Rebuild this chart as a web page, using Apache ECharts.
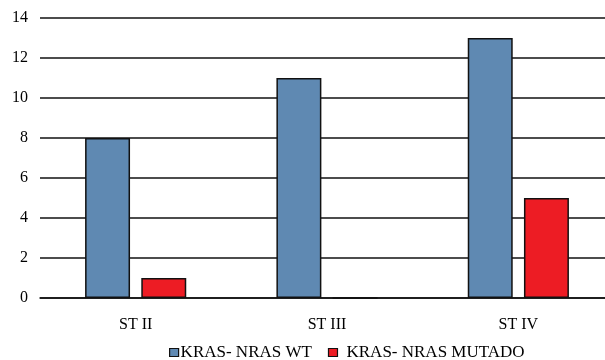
<!DOCTYPE html>
<html>
<head>
<meta charset="utf-8">
<script src="https://cdn.jsdelivr.net/npm/echarts@6/dist/echarts.min.js"></script>
<style>
  html, body { margin: 0; padding: 0; background: #fff; }
  #chart { width: 605px; height: 360px; }
</style>
</head>
<body>
<div id="chart"></div>
<script>
// Cases per stage, split by KRAS/NRAS status
const categories = ['ST II', 'ST III', 'ST IV'];
const wildType = [8, 11, 13];
const mutated = [1, 0, 5];
const seriesNames = ['KRAS- NRAS WT', 'KRAS- NRAS MUTADO'];

const font = '"Liberation Serif", "Times New Roman", serif';
const chart = echarts.init(document.getElementById('chart'));

chart.setOption({
  animation: false,
  textStyle: { fontFamily: font },
  grid: { left: 40, width: 574, top: 18, bottom: 62, outerBoundsMode: 'none', containLabel: false },
  legend: {
    top: 344,
    left: 169,
    padding: 0,
    itemWidth: 9,
    itemHeight: 8,
    itemGap: 16,
    icon: 'rect',
    itemStyle: { borderColor: '#111', borderWidth: 1.2 },
    textStyle: { fontFamily: font, fontSize: 17, color: '#000', padding: [0, 0, 0, -3] },
    data: [
      { name: seriesNames[0] },
      { name: seriesNames[1], textStyle: { padding: [0, 0, 0, 4] } }
    ]
  },
  xAxis: {
    type: 'category',
    data: categories,
    axisLine: { show: true, lineStyle: { color: '#111', width: 1.5 } },
    axisTick: { show: false },
    axisLabel: { fontFamily: font, fontSize: 16, color: '#000', margin: 19 }
  },
  yAxis: {
    type: 'value',
    min: 0,
    max: 14,
    interval: 2,
    axisLine: { show: false },
    axisTick: { show: false },
    axisLabel: { fontFamily: font, fontSize: 16, color: '#000', margin: 12 },
    splitLine: { lineStyle: { color: '#111', width: 1.5 } }
  },
  series: [
    {
      name: seriesNames[0],
      type: 'bar',
      data: wildType,
      barWidth: '23.5%',
      barGap: '25%',
      itemStyle: { color: '#5f89b2', borderColor: '#111', borderWidth: 1.5 }
    },
    {
      name: seriesNames[1],
      type: 'bar',
      data: mutated,
      barWidth: '23.5%',
      itemStyle: { color: '#ed1c24', borderColor: '#111', borderWidth: 1.5 }
    }
  ]
});
</script>
</body>
</html>
